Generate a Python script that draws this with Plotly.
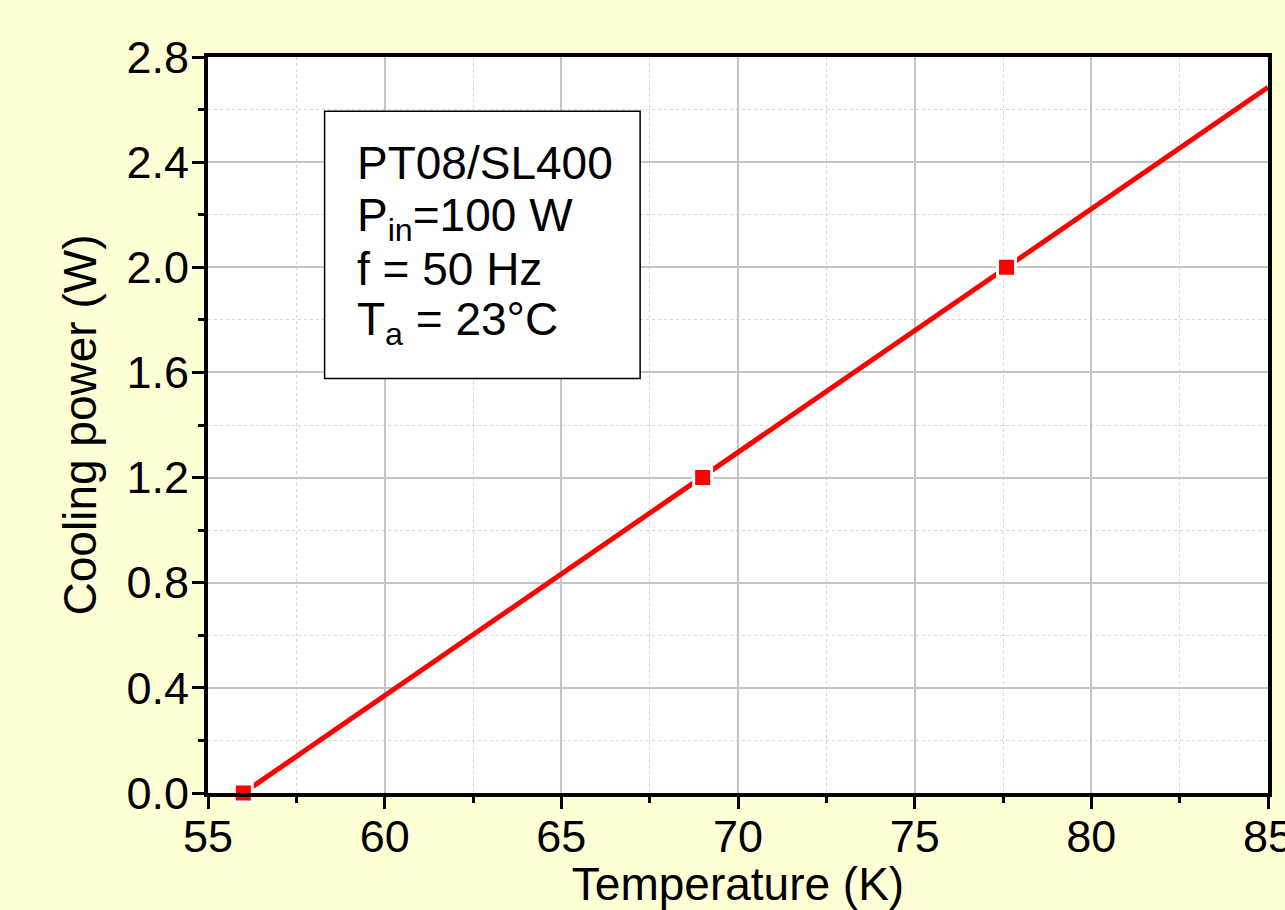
import plotly.graph_objects as go

# Measured points
temp_k = [56.0, 69.0, 77.6]
cooling_w = [0.0, 1.2, 2.0]
# Linear fit line endpoints
fit_temp = [56.0, 85.0]
fit_cool = [0.0, 2.685]

x_ticks = [55, 60, 65, 70, 75, 80, 85]
y_ticks = [0.0, 0.4, 0.8, 1.2, 1.6, 2.0, 2.4, 2.8]
y_tick_text = ["0.0", "0.4", "0.8", "1.2", "1.6", "2.0", "2.4", "2.8"]

box_lines = ["PT08/SL400", "P<sub>in</sub>=100 W", "f = 50 Hz", "T<sub>a</sub> = 23°C"]

RED = "#ff0000"
FONT = "Liberation Sans, Arial, sans-serif"

fig = go.Figure()
fig.add_trace(go.Scatter(x=fit_temp, y=fit_cool, mode="lines",
                         line=dict(color=RED, width=5), showlegend=False, hoverinfo="skip"))
fig.add_trace(go.Scatter(x=temp_k, y=cooling_w, mode="markers",
                         marker=dict(symbol="square", size=18, color=RED,
                                     line=dict(color="white", width=3)),
                         showlegend=False, cliponaxis=False))

# Text box
fig.add_shape(type="rect", xref="x", yref="y", x0=58.3, x1=67.23, y0=1.577, y1=2.594,
              line=dict(color="black", width=1.5), fillcolor="white", layer="above")
line_y = [2.398, 2.186, 1.995, 1.789]
for txt, yy in zip(box_lines, line_y):
    fig.add_annotation(x=59.15, y=yy, xref="x", yref="y", text=txt, showarrow=False,
                       xanchor="left", yanchor="middle", align="left",
                       font=dict(family=FONT, size=46, color="black"))

axis_common = dict(
    showline=True, linecolor="black", linewidth=4, mirror=True,
    ticks="outside", ticklen=12, tickwidth=3, tickcolor="black",
    showgrid=True, gridcolor="#c4c4c4", gridwidth=1.5,
    zeroline=False, ticklabeloverflow="allow",
    tickfont=dict(family=FONT, size=45, color="black"),
)

fig.update_xaxes(range=[55, 85], tickvals=x_ticks, ticklabelstandoff=-11,
                 minor=dict(dtick=2.5, ticks="outside", ticklen=6, tickwidth=3, tickcolor="black",
                            showgrid=True, gridcolor="#d6d6d6", griddash="dot", gridwidth=1),
                 title=dict(text="Temperature (K)", font=dict(family=FONT, size=46, color="black"),
                            standoff=20),
                 **axis_common)
fig.update_yaxes(range=[0, 2.8], tickvals=y_ticks, ticktext=y_tick_text, ticklabelstandoff=-6,
                 minor=dict(dtick=0.2, ticks="outside", ticklen=6, tickwidth=3, tickcolor="black",
                            showgrid=True, gridcolor="#d6d6d6", griddash="dot", gridwidth=1),
                 title=dict(text="Cooling power (W)", font=dict(family=FONT, size=46, color="black"),
                            standoff=16),
                 **axis_common)

fig.update_layout(
    width=1285, height=910,
    margin=dict(l=208, r=17, t=57, b=117, autoexpand=False),
    paper_bgcolor="#ffffd5", plot_bgcolor="white",
)

fig.write_html("out.html", config={"displayModeBar": False},
               post_script="document.body.style.margin='0';document.body.style.overflow='hidden';")
